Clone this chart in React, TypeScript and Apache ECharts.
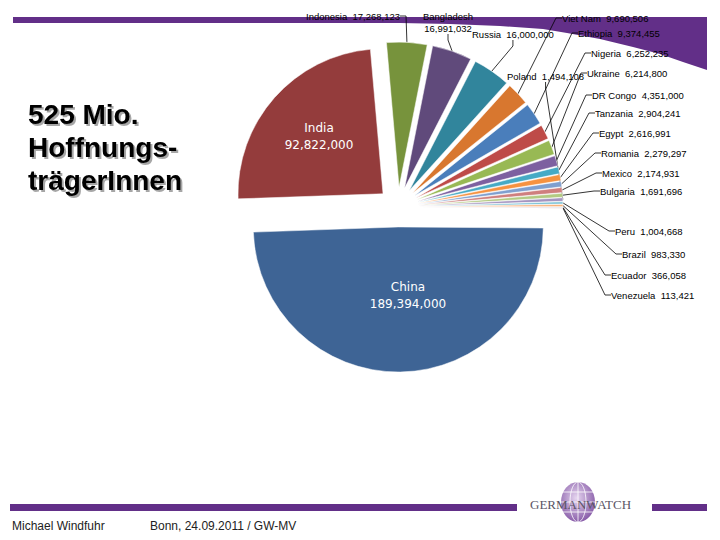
import React, { useEffect, useRef } from 'react';
import * as echarts from 'echarts';

// ---- data ----
const countries = [
  'Indonesia', 'Bangladesh', 'Russia', 'Viet Nam', 'Ethiopia', 'Nigeria', 'Ukraine',
  'DR Congo', 'Tanzania', 'Egypt', 'Romania', 'Mexico', 'Bulgaria', 'Poland', 'Peru',
  'Brazil', 'Ecuador', 'Venezuela', 'China', 'India',
];
const values = [
  17268123, 16991032, 16000000, 9690506, 9374455, 6252235, 6214800,
  4351000, 2904241, 2616991, 2279297, 2174931, 1691696, 1494108, 1004668,
  983330, 366058, 113421, 189394000, 92822000,
];
const sliceColors = [
  '#77933C', '#604A7B', '#31859C', '#D8772F', '#4A7EBB', '#BE4B48', '#98B954',
  '#7D60A0', '#46AAC5', '#F69240', '#7F9FCF', '#CF7F7E', '#B3CA83', '#A594C0', '#7FC4D7',
  '#F9B27B', '#95B3D7', '#D99694', '#3E6495', '#943C3C',
];
const insideLabelNames = ['China', 'India'];
const twoLineLabelNames = ['Bangladesh'];
const titleLines = ['525 Mio.', 'Hoffnungs-', 'trägerInnen'];
const footerAuthor = 'Michael Windfuhr';
const footerPlace = 'Bonn, 24.09.2011 / GW-MV';
const logoText = 'GERMANWATCH';

// ---- label placement (layout, not data) ----
const labelAnchors: Record<string, [number, number, string]> = {
  Indonesia: [306, 16, 'left'],
  Bangladesh: [448, 22, 'center'],
  Russia: [472, 34, 'left'],
  'Viet Nam': [562, 18, 'left'],
  Ethiopia: [578, 33, 'left'],
  Nigeria: [591, 53, 'left'],
  Ukraine: [587, 73, 'left'],
  Poland: [507, 76, 'left'],
  'DR Congo': [592, 95, 'left'],
  Tanzania: [595, 113, 'left'],
  Egypt: [599, 133, 'left'],
  Romania: [601, 153, 'left'],
  Mexico: [602, 173, 'left'],
  Bulgaria: [600, 191, 'left'],
  Peru: [615, 231, 'left'],
  Brazil: [622, 254, 'left'],
  Ecuador: [611, 275, 'left'],
  Venezuela: [611, 295, 'left'],
  China: [408, 295, 'center'],
  India: [319, 136, 'center'],
};

const PURPLE = '#622F88';
const PIE_CX = 398;
const PIE_CY = 207;
const PIE_R = 145;
const EXPLODE = 20;
const START_ANGLE = 95;
const fmt = (v: number) => v.toLocaleString('en-US');

export default function App() {
  const ref = useRef<HTMLDivElement>(null);

  useEffect(() => {
    if (!ref.current) return;
    const chart = echarts.init(ref.current, undefined, { renderer: 'svg' });

    const total = values.reduce((a, b) => a + b, 0);
    let cum = 0;
    const hiddenItem = (value: number) => ({
      name: '',
      value,
      itemStyle: { color: 'rgba(0,0,0,0)', borderWidth: 0 },
      label: { show: false },
      labelLine: { show: false },
    });

    const pieSeries = countries.map((name, i) => {
      const before = cum;
      cum += values[i];
      const after = total - cum;
      const mid = ((START_ANGLE - (360 * (before + values[i] / 2)) / total) * Math.PI) / 180;
      const center = [PIE_CX + EXPLODE * Math.cos(mid), PIE_CY - EXPLODE * Math.sin(mid)];
      const inside = insideLabelNames.includes(name);
      const anchor = labelAnchors[name];
      return {
        type: 'pie',
        z: 3,
        silent: true,
        center,
        radius: PIE_R,
        startAngle: START_ANGLE,
        clockwise: true,
        avoidLabelOverlap: false,
        emphasis: { disabled: true },
        itemStyle: { borderColor: '#ffffff', borderWidth: 0.5 },
        label: inside
          ? {
              show: true,
              position: 'inside',
              color: '#ffffff',
              fontFamily: '"DejaVu Sans", Verdana, sans-serif',
              fontSize: 12,
              lineHeight: 17,
              align: 'center',
              formatter: (p: any) => p.name + '\n' + fmt(p.value),
            }
          : {
              show: true,
              position: 'outside',
              color: '#000',
              fontFamily: '"Liberation Sans", Arial, sans-serif',
              fontSize: 9.5,
              lineHeight: 12,
              formatter: (p: any) =>
                twoLineLabelNames.includes(p.name)
                  ? p.name + '\n' + fmt(p.value)
                  : p.name + '  ' + fmt(p.value),
            },
        labelLine: inside
          ? { show: false }
          : { show: true, length: 8, length2: 6, lineStyle: { color: '#000', width: 0.8 } },
        labelLayout: (p: any) =>
          p.dataIndex === 1 && anchor
            ? { x: anchor[0], y: anchor[1], align: anchor[2], verticalAlign: 'middle', hideOverlap: false }
            : {},
        data: [
          hiddenItem(before),
          { name, value: values[i], itemStyle: { color: sliceColors[i] } },
          hiddenItem(after),
        ],
      };
    });

    const swoosh = [
      [13, 17], [707, 17], [707, 70], [683, 62], [660, 54], [633, 47], [600, 39],
      [567, 33], [543, 29], [500, 26], [450, 24], [400, 23], [13, 23],
    ];

    const option: any = {
      animation: false,
      backgroundColor: '#ffffff',
      graphic: [
        { type: 'polygon', z: 0, shape: { points: swoosh }, style: { fill: PURPLE } },
        {
          type: 'text', left: 28, top: 98, z: 5,
          style: {
            text: titleLines.join('\n'),
            font: 'bold 28px "Liberation Sans", Arial, sans-serif',
            lineHeight: 33,
            fill: '#000',
            textShadowColor: 'rgba(0,0,0,0.35)',
            textShadowOffsetX: 2,
            textShadowOffsetY: 2,
            textShadowBlur: 1,
          },
        },
        { type: 'rect', z: 0, shape: { x: 10, y: 504, width: 507, height: 7 }, style: { fill: PURPLE } },
        { type: 'rect', z: 0, shape: { x: 652, y: 504, width: 55, height: 7 }, style: { fill: PURPLE } },
        {
          type: 'ellipse', z: 1, shape: { cx: 578, cy: 502, rx: 17, ry: 20 },
          style: {
            fill: new echarts.graphic.RadialGradient(0.45, 0.4, 0.7, [
              { offset: 0, color: '#E6D6F0' },
              { offset: 1, color: '#7A4A9E' },
            ]),
          },
        },
        { type: 'ellipse', z: 2, shape: { cx: 578, cy: 502, rx: 8, ry: 20 }, style: { fill: 'none', stroke: '#ffffff', lineWidth: 0.8 } },
        { type: 'line', z: 2, shape: { x1: 578, y1: 482, x2: 578, y2: 522 }, style: { stroke: '#ffffff', lineWidth: 0.8 } },
        { type: 'line', z: 2, shape: { x1: 563, y1: 492, x2: 593, y2: 492 }, style: { stroke: '#ffffff', lineWidth: 0.8 } },
        { type: 'line', z: 2, shape: { x1: 561, y1: 502, x2: 595, y2: 502 }, style: { stroke: '#ffffff', lineWidth: 0.8 } },
        { type: 'line', z: 2, shape: { x1: 563, y1: 512, x2: 593, y2: 512 }, style: { stroke: '#ffffff', lineWidth: 0.8 } },
        {
          type: 'text', left: 530, top: 498, z: 3,
          style: { text: logoText, font: '13px "Liberation Serif", "Times New Roman", serif', fill: '#5a5566' },
        },
        {
          type: 'text', left: 12, top: 520, z: 3,
          style: { text: footerAuthor, font: '12px "Liberation Sans Narrow", "Arial Narrow", sans-serif', fill: '#222' },
        },
        {
          type: 'text', left: 150, top: 520, z: 3,
          style: { text: footerPlace, font: '12px "Liberation Sans Narrow", "Arial Narrow", sans-serif', fill: '#222' },
        },
      ],
      series: pieSeries,
    };

    chart.setOption(option);
    return () => chart.dispose();
  }, []);

  return (
    <div
      ref={ref}
      style={{ position: 'absolute', left: 0, top: 0, width: 720, height: 540, background: '#fff' }}
    />
  );
}
